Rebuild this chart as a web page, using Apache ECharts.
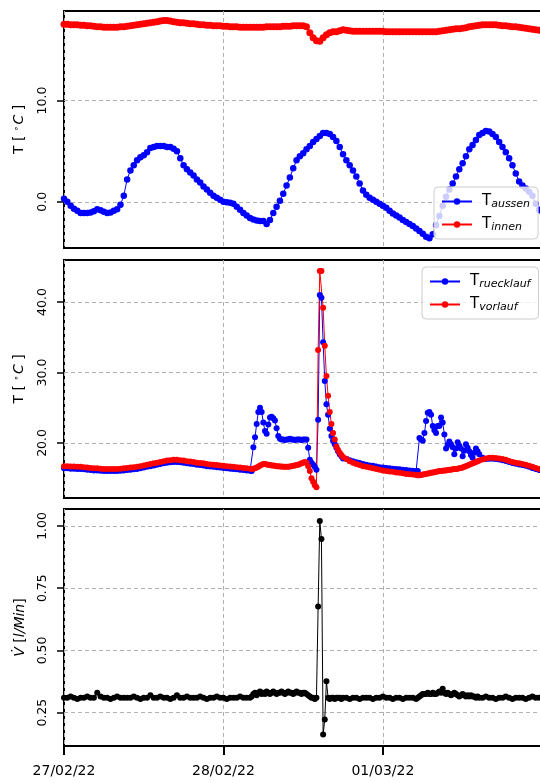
<!DOCTYPE html>
<html><head><meta charset="utf-8">
<script src="https://cdn.jsdelivr.net/npm/echarts@6/dist/echarts.min.js"></script>
<style>html,body{margin:0;padding:0;background:#fff}#c{width:540px;height:783px}</style>
</head><body><div id="c"></div>
<script>
// ---------------- DATA (hours since 27/02/22 00:00) ----------------
const dayLabels = ['27/02/22', '28/02/22', '01/03/22'];
const yTicksTop = [0, 10];
const yTicksMid = [20, 30, 40];
const yTicksBot = [0.25, 0.5, 0.75, 1.0];

function seq(a, b, s) { const r = []; for (let k = 0; a + k * s <= b + 1e-9; k++) r.push(Math.round((a + k * s) * 100) / 100); return r; }
// sampling grids
const tTop = seq(0, 72, 0.5);
const tMid = [].concat(seq(0, 27.5, 0.5), seq(28, 42, 0.25), seq(42.5, 53, 0.5), seq(53.25, 62.5, 0.25), seq(63, 72, 0.5));

const tAussen = [
  0.3, 0.0, -0.4, -0.7, -0.9, -1.1, -1.1, -1.1, -1.05, -0.95,
  -0.75, -0.85, -1.0, -1.1, -1.05, -0.9, -0.75, -0.3, 0.6, 2.2,
  3.1, 3.6, 4.1, 4.4, 4.6, 4.9, 5.3, 5.4, 5.5, 5.5,
  5.5, 5.4, 5.4, 5.25, 5.0, 4.3, 3.6, 3.2, 2.9, 2.6,
  2.2, 1.9, 1.5, 1.2, 0.9, 0.6, 0.4, 0.2, 0.0, -0.05,
  -0.1, -0.2, -0.5, -0.8, -1.1, -1.35, -1.6, -1.75, -1.85, -1.9,
  -1.9, -2.2, -1.8, -1.1, -0.5, 0.1, 0.8, 1.6, 2.4, 3.3,
  4.1, 4.5, 4.8, 5.2, 5.5, 5.9, 6.2, 6.5, 6.8, 6.8,
  6.7, 6.4, 6.0, 5.4, 4.7, 4.1, 3.6, 3.1, 2.5, 1.8,
  1.1, 0.7, 0.4, 0.2, 0.0, -0.2, -0.4, -0.6, -0.9, -1.15,
  -1.35, -1.55, -1.8, -2.0, -2.2, -2.4, -2.65, -2.9, -3.15, -3.45,
  -3.6, -3.2, -2.3, -1.4, -0.4, 0.5, 1.2, 1.8, 2.5, 3.2,
  3.8, 4.5, 5.2, 5.6, 6.1, 6.6, 6.8, 7.0, 6.95, 6.7,
  6.4, 5.9, 5.4, 4.9, 4.3, 3.6, 2.8, 2.0, 1.6, 1.3,
  1.0, 0.6, -0.2, -0.8, -1.0
];
const tInnen = [
  17.55, 17.55, 17.5, 17.5, 17.5, 17.45, 17.45, 17.4, 17.4, 17.35,
  17.3, 17.3, 17.25, 17.25, 17.25, 17.25, 17.25, 17.3, 17.3, 17.35,
  17.4, 17.45, 17.5, 17.55, 17.6, 17.65, 17.7, 17.75, 17.8, 17.85,
  17.9, 17.9, 17.85, 17.8, 17.75, 17.7, 17.7, 17.65, 17.6, 17.6,
  17.55, 17.5, 17.5, 17.45, 17.45, 17.4, 17.4, 17.4, 17.35, 17.35,
  17.3, 17.3, 17.3, 17.25, 17.25, 17.25, 17.25, 17.25, 17.25, 17.25,
  17.25, 17.3, 17.3, 17.3, 17.3, 17.3, 17.35, 17.35, 17.35, 17.4,
  17.4, 17.4, 17.4, 17.3, 16.7, 16.2, 15.9, 15.85, 16.2, 16.5,
  16.7, 16.8, 16.8, 16.9, 17.0, 16.95, 16.9, 16.85, 16.85, 16.85,
  16.85, 16.85, 16.85, 16.85, 16.85, 16.85, 16.85, 16.8, 16.8, 16.8,
  16.8, 16.8, 16.8, 16.8, 16.8, 16.8, 16.8, 16.8, 16.8, 16.8,
  16.8, 16.8, 16.8, 16.85, 16.9, 16.95, 17.0, 17.05, 17.1, 17.1,
  17.15, 17.2, 17.3, 17.35, 17.4, 17.45, 17.5, 17.5, 17.5, 17.5,
  17.5, 17.45, 17.4, 17.4, 17.35, 17.3, 17.3, 17.25, 17.2, 17.15,
  17.1, 17.05, 17.0, 16.95, 16.9
];
const tVorlauf = [
  16.7, 16.7, 16.65, 16.65, 16.6, 16.6, 16.55, 16.5, 16.45, 16.4,
  16.4, 16.35, 16.3, 16.3, 16.3, 16.3, 16.3, 16.35, 16.4, 16.45,
  16.5, 16.55, 16.6, 16.7, 16.8, 16.9, 17.0, 17.1, 17.2, 17.3,
  17.4, 17.5, 17.55, 17.6, 17.6, 17.55, 17.5, 17.4, 17.35, 17.3,
  17.2, 17.15, 17.1, 17.0, 16.95, 16.9, 16.85, 16.8, 16.75, 16.7,
  16.65, 16.6, 16.55, 16.5, 16.45, 16.4,
  16.35, 16.3, 16.35, 16.4, 16.5, 16.6, 16.8, 16.9, 17.0, 17.0, 16.95, 16.9,
  16.85, 16.8, 16.8, 16.75, 16.7, 16.7, 16.65, 16.65, 16.6, 16.6, 16.6, 16.6,
  16.65, 16.7, 16.75, 16.8, 16.85, 16.9, 17.0, 17.1, 17.2, 17.3, 17.2, 16.7,
  16.0, 15.0, 14.5, 14.0, 13.7, 33.2, 44.4, 44.4, 39.2, 33.8, 29.5, 26.7,
  24.4, 22.7, 21.4, 20.5, 19.5, 19.0, 18.6, 18.3, 18.0,
  17.7, 17.4, 17.2, 17.0, 16.85, 16.7, 16.6, 16.5, 16.4, 16.3, 16.2,
  16.1, 16.0, 15.95, 15.9, 15.8, 15.75, 15.7, 15.6, 15.55, 15.5, 15.45,
  15.4, 15.4, 15.45, 15.5, 15.55, 15.6, 15.65, 15.7, 15.75, 15.8, 15.85, 15.9,
  15.95, 16.0, 16.0, 16.05, 16.1, 16.1, 16.15, 16.2, 16.2, 16.25, 16.3, 16.3,
  16.35, 16.4, 16.45, 16.5, 16.6, 16.7, 16.8, 16.9, 17.0, 17.1, 17.2, 17.3,
  17.4, 17.5,
  17.65, 17.8, 17.9, 17.9, 17.85, 17.8, 17.7, 17.6, 17.45, 17.3,
  17.2, 17.1, 17.0, 16.9, 16.75, 16.6, 16.45, 16.3, 16.2
];
const tRuecklauf = [
  16.4, 16.4, 16.35, 16.35, 16.3, 16.3, 16.25, 16.2, 16.15, 16.1,
  16.1, 16.05, 16.0, 16.0, 16.0, 16.0, 16.0, 16.05, 16.1, 16.15,
  16.2, 16.25, 16.3, 16.4, 16.5, 16.6, 16.7, 16.8, 16.9, 17.0,
  17.1, 17.2, 17.25, 17.3, 17.3, 17.25, 17.2, 17.1, 17.05, 17.0,
  16.9, 16.85, 16.8, 16.7, 16.65, 16.6, 16.55, 16.5, 16.45, 16.4,
  16.35, 16.3, 16.25, 16.2, 16.15, 16.1,
  16.05, 16.0, 19.4, 20.8, 22.7, 24.4, 25.0, 24.4, 22.9, 21.7, 21.3, 22.6,
  23.6, 23.7, 23.5, 23.2, 22.1, 21.0, 20.6, 20.5, 20.5, 20.4, 20.5, 20.5,
  20.6, 20.5, 20.5, 20.4, 20.5, 20.5, 20.5, 20.4, 20.5, 20.5, 20.5, 19.3,
  17.6, 17.2, 16.9, 16.6, 16.2, 23.3, 41.0, 40.6, 34.3, 28.8, 25.5, 24.0,
  22.0, 21.0, 20.3, 19.8, 19.3, 18.8, 18.4, 18.1, 17.8,
  17.75, 17.55, 17.4, 17.25, 17.15, 17.0, 16.9, 16.8, 16.75, 16.65, 16.55,
  16.5, 16.45, 16.4, 16.35, 16.3, 16.25, 16.2, 16.15, 16.1, 16.05, 16.0,
  16.0, 20.7, 20.5, 20.3, 21.4, 23.1, 24.3, 24.4, 24.0, 22.4, 21.8, 21.4,
  22.4, 22.4, 23.6, 22.9, 21.2, 19.2, 19.7, 20.2, 19.8, 19.4, 18.4, 19.2,
  20.1, 19.6, 19.2, 18.1, 18.9, 19.8, 19.3, 18.8, 18.3, 17.9, 18.6, 19.2,
  18.8, 18.4,
  17.9, 17.7, 17.75, 17.75, 17.7, 17.65, 17.55, 17.45, 17.3, 17.15,
  17.05, 16.95, 16.85, 16.75, 16.6, 16.45, 16.3, 16.15, 16.05
];
const flow = [
  0.31, 0.31, 0.315, 0.31, 0.305, 0.31, 0.31, 0.315, 0.31, 0.31,
  0.33, 0.315, 0.31, 0.31, 0.305, 0.31, 0.315, 0.31, 0.31, 0.31,
  0.31, 0.315, 0.31, 0.305, 0.31, 0.31, 0.32, 0.31, 0.31, 0.315,
  0.31, 0.31, 0.305, 0.31, 0.32, 0.31, 0.31, 0.315, 0.31, 0.31,
  0.31, 0.315, 0.31, 0.305, 0.31, 0.31, 0.315, 0.31, 0.31, 0.305,
  0.31, 0.31, 0.31, 0.315, 0.31, 0.31,
  0.31, 0.315, 0.325, 0.33, 0.32, 0.33, 0.335, 0.325, 0.33, 0.325, 0.335, 0.33,
  0.325, 0.33, 0.335, 0.33, 0.325, 0.33, 0.33, 0.335, 0.33, 0.325, 0.33, 0.335,
  0.33, 0.33, 0.325, 0.33, 0.335, 0.33, 0.33, 0.325, 0.33, 0.33, 0.325, 0.32,
  0.315, 0.31, 0.31, 0.305, 0.31, 0.676, 1.02, 0.947, 0.162, 0.222, 0.376, 0.31,
  0.305, 0.31, 0.31, 0.305, 0.31, 0.31, 0.31, 0.305, 0.31,
  0.31, 0.305, 0.31, 0.31, 0.305, 0.31, 0.31, 0.31, 0.305, 0.31, 0.31,
  0.315, 0.31, 0.31, 0.305, 0.31, 0.31, 0.305, 0.31, 0.31, 0.31, 0.305,
  0.31, 0.315, 0.32, 0.325, 0.325, 0.325, 0.33, 0.325, 0.325, 0.33, 0.325, 0.325,
  0.33, 0.335, 0.33, 0.346, 0.33, 0.325, 0.33, 0.325, 0.32, 0.325, 0.33, 0.325,
  0.32, 0.315, 0.32, 0.325, 0.32, 0.315, 0.32, 0.315, 0.32, 0.315, 0.315, 0.31,
  0.315, 0.31,
  0.31, 0.315, 0.31, 0.31, 0.305, 0.31, 0.31, 0.315, 0.31, 0.305,
  0.31, 0.31, 0.31, 0.305, 0.31, 0.315, 0.31, 0.31, 0.31
];

// ---------------- CHART ----------------
const FONT = 'DejaVu Sans';
const zip = (t, v) => t.map((x, i) => [x, v[i]]);
const grids = [
  { left: 64, top: 11, width: 485, height: 237 },
  { left: 64, top: 260, width: 485, height: 238 },
  { left: 64, top: 509, width: 485, height: 237 }
].map(g => Object.assign(g, { show: true, borderColor: '#000', borderWidth: 2, backgroundColor: 'transparent',
  containLabel: false, outerBoundsMode: 'none' }));

const gridLine = { show: true, lineStyle: { color: '#b0b0b0', type: [4, 3], width: 1 } };

function xAxis(i) {
  const last = i === 2;
  return {
    type: 'value', gridIndex: i, min: 0, max: 73, interval: 24,
    axisLine: { show: false },
    axisTick: { show: last, length: 9, lineStyle: { color: '#000', width: 2 } },
    axisLabel: { show: last, fontSize: 14, fontFamily: FONT, color: '#000', margin: 18,
      formatter: v => dayLabels[Math.round(v / 24)] || '' },
    splitLine: gridLine
  };
}
function yAxis(i, min, max, ticks, dec, name, rich, gap) {
  return {
    type: 'value', gridIndex: i, min: min, max: max,
    axisLine: { show: false },
    axisTick: { show: true, length: 7, lineStyle: { color: '#000', width: 1.5 }, customValues: ticks },
    axisLabel: { customValues: ticks, rotate: 90, fontSize: 12.5, fontFamily: FONT, color: '#000', margin: 15,
      formatter: v => v.toFixed(dec) },
    splitLine: gridLine,
    name: name, nameLocation: 'middle', nameRotate: 90, nameGap: gap,
    nameTextStyle: { fontSize: 14, fontFamily: FONT, color: '#000', rich: rich }
  };
}
const richT = {
  n: { fontSize: 14, fontFamily: FONT, color: '#000' },
  d: { fontSize: 9, fontFamily: FONT, color: '#000', padding: [0, 1, 6, 0] },
  i: { fontSize: 14, fontFamily: FONT, fontStyle: 'italic', color: '#000' }
};
const nameT = '{n|T [ }{d|∘}{i|C}{n| ]}';
const nameV = '{i|V̇}{n| [}{i|l/Min}{n|]}';

function ser(name, i, t, v, color, size) {
  return {
    type: 'line', name: name, xAxisIndex: i, yAxisIndex: i, data: zip(t, v),
    symbol: 'circle', symbolSize: size, showSymbol: true,
    lineStyle: { width: 1, color: color }, itemStyle: { color: color },
    emphasis: { disabled: true }, silent: true
  };
}
const legendBase = {
  orient: 'vertical', itemWidth: 30, itemHeight: 8, itemGap: 6,
  backgroundColor: 'rgba(255,255,255,0.8)', borderColor: '#cccccc', borderWidth: 1, borderRadius: 4,
  padding: [6, 8, 6, 7],
  formatter: n => '{t|T}{s|' + n + '}',
  textStyle: { padding: [0, 0, 0, 5], rich: {
    t: { fontSize: 15, fontFamily: FONT, color: '#000', lineHeight: 18 },
    s: { fontSize: 11, fontFamily: FONT, fontStyle: 'italic', color: '#000', lineHeight: 18, padding: [6, 0, 0, 0] }
  } }
};

const chart = echarts.init(document.getElementById('c'), null, { renderer: 'canvas' });
chart.setOption({
  animation: false,
  backgroundColor: '#fff',
  grid: grids,
  xAxis: [xAxis(0), xAxis(1), xAxis(2)],
  yAxis: [
    yAxis(0, -4.57, 18.85, yTicksTop, 1, nameT, richT, 37),
    yAxis(1, 12.18, 45.97, yTicksMid, 1, nameT, richT, 37),
    yAxis(2, 0.116, 1.068, yTicksBot, 2, nameV, richT, 37)
  ],
  legend: [
    Object.assign({}, legendBase, { left: 434, top: 187, data: ['aussen', 'innen'] }),
    Object.assign({}, legendBase, { left: 422, top: 267, data: ['ruecklauf', 'vorlauf'] })
  ],
  series: [
    ser('aussen', 0, tTop, tAussen, '#0000ff', 6.5),
    ser('innen', 0, tTop, tInnen, '#ff0000', 7),
    ser('ruecklauf', 1, tMid, tRuecklauf, '#0000ff', 6),
    ser('vorlauf', 1, tMid, tVorlauf, '#ff0000', 6),
    ser('flow', 2, tMid, flow, '#000000', 6)
  ]
});
</script></body></html>
